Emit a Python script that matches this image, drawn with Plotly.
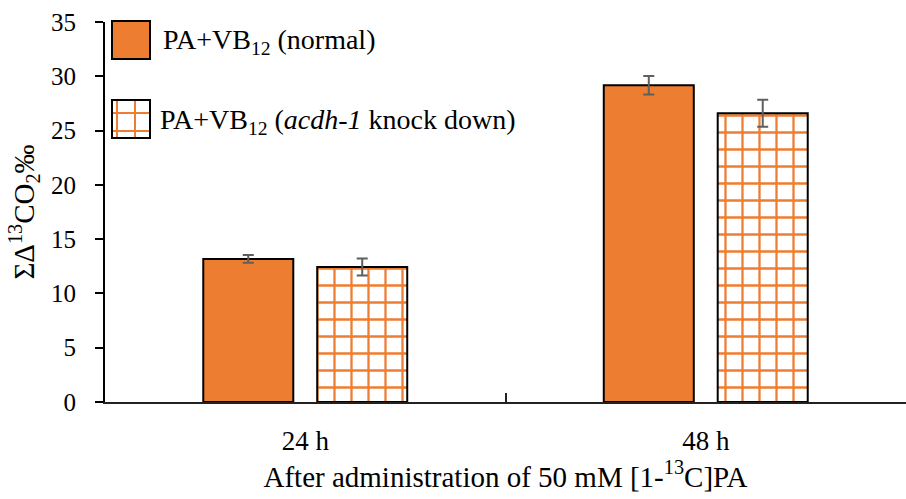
import plotly.graph_objects as go

# Cumulative 13CO2 excess after [1-13C]PA administration
categories = ["24 h", "48 h"]
normal_vals = [13.18, 29.18]
normal_err = [0.35, 0.85]
knockdown_vals = [12.44, 26.6]
knockdown_err = [0.78, 1.24]

series_names = [
    "PA+VB<sub>12</sub> (normal)",
    "PA+VB<sub>12</sub> (<i>acdh-1</i> knock down)",
]

ORANGE = "#ED7D31"
ERR_GRAY = "#5f5f5f"
FONT = "Liberation Serif, Times New Roman, serif"

W, H = 906, 499
ML, MR, MT, MB = 105, 0, 22, 97
PW, PH = W - ML - MR, H - MT - MB


def px_x(x):
    return (x - ML) / PW


def px_y(y):
    return 1 - (y - MT) / PH


fig = go.Figure()

fig.add_trace(go.Bar(
    x=categories, y=normal_vals, name=series_names[0],
    marker=dict(color=ORANGE, line=dict(color="black", width=2)),
    error_y=dict(type="data", array=normal_err, color=ERR_GRAY, thickness=2, width=5.5),
))
fig.add_trace(go.Bar(
    x=categories, y=knockdown_vals, name=series_names[1],
    marker=dict(
        color="white",
        line=dict(color="black", width=2),
        pattern=dict(shape="+", fgcolor=ORANGE, bgcolor="white", fgopacity=1,
                     size=17, solidity=0.25),
    ),
    error_y=dict(type="data", array=knockdown_err, color=ERR_GRAY, thickness=2, width=5.5),
))

# Hand-built legend with large swatches
shapes = []
annotations = []
# solid swatch
shapes.append(dict(type="rect", xref="paper", yref="paper",
                   x0=px_x(112), x1=px_x(150), y0=px_y(59), y1=px_y(21),
                   fillcolor=ORANGE, line=dict(color="black", width=2)))
# grid swatch
shapes.append(dict(type="rect", xref="paper", yref="paper",
                   x0=px_x(112), x1=px_x(150), y0=px_y(138), y1=px_y(100),
                   fillcolor="white", line=dict(color="black", width=2), layer="above"))
for gx in (117, 135):
    shapes.append(dict(type="line", xref="paper", yref="paper",
                       x0=px_x(gx), x1=px_x(gx), y0=px_y(137), y1=px_y(101),
                       line=dict(color=ORANGE, width=2), layer="above"))
for gy in (113, 131):
    shapes.append(dict(type="line", xref="paper", yref="paper",
                       x0=px_x(113), x1=px_x(149), y0=px_y(gy), y1=px_y(gy),
                       line=dict(color=ORANGE, width=2), layer="above"))
annotations.append(dict(text=series_names[0], xref="paper", yref="paper",
                        x=px_x(161), y=px_y(41), xanchor="left", yanchor="middle",
                        showarrow=False, font=dict(family=FONT, size=28, color="black")))
annotations.append(dict(text=series_names[1], xref="paper", yref="paper",
                        x=px_x(158), y=px_y(121), xanchor="left", yanchor="middle",
                        showarrow=False, font=dict(family=FONT, size=28, color="black")))

fig.update_layout(
    width=W, height=H,
    margin=dict(l=ML, r=MR, t=MT, b=MB, pad=0),
    paper_bgcolor="white", plot_bgcolor="white",
    barmode="group", bargap=0.431, bargroupgap=0.21,
    showlegend=False,
    font=dict(family=FONT, size=24, color="black"),
    shapes=shapes, annotations=annotations,
)
fig.update_xaxes(
    type="category", range=[-0.5, 1.5],
    showline=True, linecolor="#222222", linewidth=2,
    ticks="inside", tickson="boundaries", ticklen=9, tickwidth=2, tickcolor="#222222",
    showgrid=False,
    tickfont=dict(family=FONT, size=27),
    ticklabelstandoff=14,
    title=dict(text="After administration of 50 mM [1-<sup>13</sup>C]PA",
               font=dict(family=FONT, size=29), standoff=10),
)
fig.update_yaxes(
    range=[0, 35], dtick=5, tick0=0,
    showline=True, linecolor="black", linewidth=2,
    ticks="outside", ticklen=8, tickwidth=2, tickcolor="black",
    ticklabelstandoff=14,
    showgrid=False, zeroline=False,
    tickfont=dict(family=FONT, size=25),
    title=dict(text="ΣΔ<sup>13</sup>CO<sub>2</sub>‰", font=dict(family=FONT, size=29), standoff=8),
)

fig.write_html("out.html")
